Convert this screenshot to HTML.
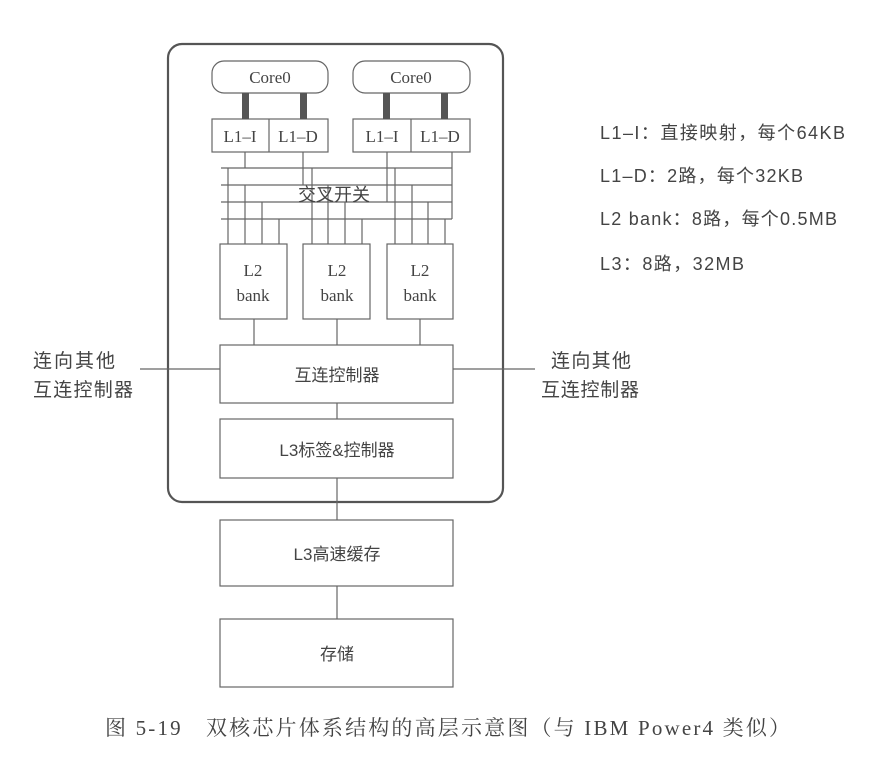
<!DOCTYPE html>
<html><head><meta charset="utf-8"><style>
html,body{margin:0;padding:0;background:#fff;}
svg{display:block}
.s{font-family:"Liberation Serif","Noto Serif CJK SC",serif;fill:#444}
.c{font-family:"Liberation Sans","Noto Sans CJK SC",sans-serif;fill:#444}
</style></head><body>
<svg width="878" height="760" viewBox="0 0 878 760" xmlns="http://www.w3.org/2000/svg">
<rect width="878" height="760" fill="#fff"/>
<g stroke="#666" fill="none" stroke-width="1.2">
<rect x="168" y="44" width="335" height="458" rx="14" stroke-width="2.2" stroke="#555"/>
<rect x="212" y="61" width="116" height="32" rx="12"/>
<rect x="353" y="61" width="117" height="32" rx="12"/>
<rect x="212" y="119" width="116" height="33"/><line x1="269" y1="119" x2="269" y2="152"/>
<rect x="353" y="119" width="117" height="33"/><line x1="411" y1="119" x2="411" y2="152"/>
<line x1="221" y1="168" x2="452" y2="168"/>
<line x1="221" y1="185" x2="452" y2="185"/>
<line x1="221" y1="202" x2="452" y2="202"/>
<line x1="221" y1="219" x2="452" y2="219"/>
<line x1="245" y1="152" x2="245" y2="168"/>
<line x1="303" y1="152" x2="303" y2="185"/>
<line x1="387" y1="152" x2="387" y2="202"/>
<line x1="452" y1="152" x2="452" y2="219"/>
<line x1="228" y1="168" x2="228" y2="244"/><line x1="245" y1="185" x2="245" y2="244"/><line x1="262" y1="202" x2="262" y2="244"/><line x1="279" y1="219" x2="279" y2="244"/>
<line x1="312" y1="168" x2="312" y2="244"/><line x1="328" y1="185" x2="328" y2="244"/><line x1="345" y1="202" x2="345" y2="244"/><line x1="362" y1="219" x2="362" y2="244"/>
<line x1="395" y1="168" x2="395" y2="244"/><line x1="412" y1="185" x2="412" y2="244"/><line x1="428" y1="202" x2="428" y2="244"/><line x1="445" y1="219" x2="445" y2="244"/>
<rect x="220" y="244" width="67" height="75"/>
<rect x="303" y="244" width="67" height="75"/>
<rect x="387" y="244" width="66" height="75"/>
<line x1="254" y1="319" x2="254" y2="345"/><line x1="337" y1="319" x2="337" y2="345"/><line x1="420" y1="319" x2="420" y2="345"/>
<rect x="220" y="345" width="233" height="58"/>
<line x1="140" y1="369" x2="220" y2="369"/><line x1="453" y1="369" x2="535" y2="369"/>
<line x1="337" y1="403" x2="337" y2="419"/>
<rect x="220" y="419" width="233" height="59"/>
<line x1="337" y1="478" x2="337" y2="520"/>
<rect x="220" y="520" width="233" height="66"/>
<line x1="337" y1="586" x2="337" y2="619"/>
<rect x="220" y="619" width="233" height="68"/>
</g>
<g fill="#555">
<rect x="242" y="93" width="7" height="26"/><rect x="300" y="93" width="7" height="26"/>
<rect x="383" y="93" width="7" height="26"/><rect x="441" y="93" width="7" height="26"/>
</g>
<g class="s" font-size="17" text-anchor="middle">
<text x="270" y="83">Core0</text><text x="411" y="83">Core0</text>
<text x="240" y="142">L1–I</text><text x="298" y="142">L1–D</text>
<text x="382" y="142">L1–I</text><text x="440" y="142">L1–D</text>
<text x="253" y="276">L2</text><text x="253" y="301">bank</text>
<text x="337" y="276">L2</text><text x="337" y="301">bank</text>
<text x="420" y="276">L2</text><text x="420" y="301">bank</text>
</g>
<g class="c" font-size="17" text-anchor="middle">
<text x="334" y="201" font-size="18">交叉开关</text>
<text x="337" y="381">互连控制器</text>
<text x="337" y="456">L3标签&amp;控制器</text>
<text x="337" y="560">L3高速缓存</text>
<text x="337" y="660">存储</text>
</g>
<g class="c" font-size="19">
<text x="33" y="367" textLength="82">连向其他</text><text x="33" y="396" textLength="100">互连控制器</text>
<text x="551" y="367" textLength="80">连向其他</text><text x="541" y="396" textLength="98">互连控制器</text>
</g>
<g class="c" font-size="18" fill="#555">
<text x="600" y="139" textLength="245">L1–I：直接映射，每个64KB</text>
<text x="600" y="182" textLength="203">L1–D：2路，每个32KB</text>
<text x="600" y="225" textLength="237">L2 bank：8路，每个0.5MB</text>
<text x="600" y="270" textLength="144">L3：8路，32MB</text>
</g>
<text class="s" x="105" y="735" font-size="21" textLength="685">图 5-19　双核芯片体系结构的高层示意图（与 IBM Power4 类似）</text>
</svg>
</body></html>
